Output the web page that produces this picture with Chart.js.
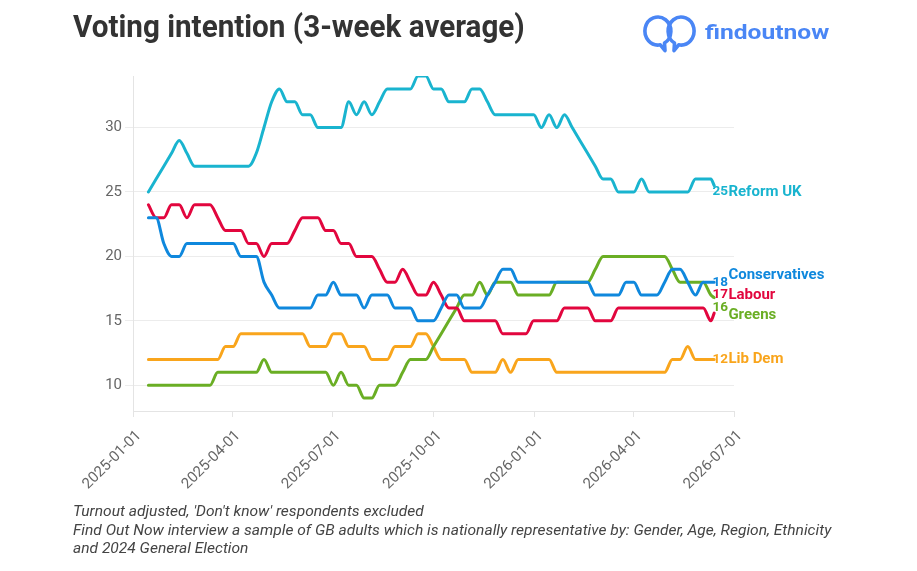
<!DOCTYPE html>
<html>
<head>
<meta charset="utf-8">
<script src="https://cdn.jsdelivr.net/npm/chart.js@4/dist/chart.umd.min.js"></script>
<style>
    html, body { margin: 0; padding: 0; background: #fff; }
    #wrap { position: relative; width: 917px; height: 571px; overflow: hidden; }
    #chart { position: absolute; left: 0; top: 0; }
    .fit { position: absolute; white-space: nowrap; transform-origin: left top; }
    #title { left: 73px; top: 11px; font: bold 31px/31px Roboto, sans-serif; color: #333; }
    #brand { left: 705px; top: 22px; font: bold 21px/21px Roboto, sans-serif; color: #4a86f5; }
    #logo { position: absolute; left: 640px; top: 13px; }
    .note { left: 73px; font: italic 14px/18.5px Roboto, sans-serif; color: #444; }
</style>
</head>
<body>
<div id="wrap">
    <canvas id="chart" width="917" height="571"></canvas>
    <div id="title" class="fit">Voting intention (3-week average)</div>
    <svg id="logo" width="60" height="42" viewBox="0 0 60 42">
        <g fill="none" stroke="#4a86f5" stroke-width="3.6" stroke-linecap="round" stroke-linejoin="round">
            <path d="M24.5 30.1 A13 14 0 1 0 20.3 31.8 L25 37.5 Z" />
            <path d="M34.5 30.1 A13 14 0 1 1 38.7 31.8 L34 37.5 Z" />
        </g>
    </svg>
    <div id="brand" class="fit">findoutnow</div>
    <div id="note1" class="fit note" style="top: 502px">Turnout adjusted, 'Don't know' respondents excluded</div>
    <div id="note2" class="fit note" style="top: 520.5px">Find Out Now interview a sample of GB adults which is nationally representative by: Gender, Age, Region, Ethnicity</div>
    <div id="note3" class="fit note" style="top: 539px">and 2024 General Election</div>
</div>
<script>
/*
|--------------------------------------------------------------------------
| Data
|--------------------------------------------------------------------------
*/

const partyNames = ["Reform UK", "Conservatives", "Labour", "Greens", "Lib Dem"];

const firstPoll = "2025-01-15";
const weeklyPolls = 74;
const lastPoll = "2026-06-13";

const reformUK = [
    25, 26, 27, 28, 29, 28, 27, 27, 27, 27,
    27, 27, 27, 27, 28, 30, 32, 33, 32, 32,
    31, 31, 30, 30, 30, 30, 32, 31, 32, 31,
    32, 33, 33, 33, 33, 34, 34, 33, 33, 32,
    32, 32, 33, 33, 32, 31, 31, 31, 31, 31,
    31, 30, 31, 30, 31, 30, 29, 28, 27, 26,
    26, 25, 25, 25, 26, 25, 25, 25, 25, 25,
    25, 26, 26, 26, 25.5,
];

const conservatives = [
    23, 23, 21, 20, 20, 21, 21, 21, 21, 21,
    21, 21, 20, 20, 20, 18, 17, 16, 16, 16,
    16, 16, 17, 17, 18, 17, 17, 17, 16, 17,
    17, 17, 16, 16, 16, 15, 15, 15, 16, 17,
    17, 16, 16, 16, 17, 18, 19, 19, 18, 18,
    18, 18, 18, 18, 18, 18, 18, 18, 17, 17,
    17, 17, 18, 18, 17, 17, 17, 18, 19, 19,
    18, 17, 18, 18, 18,
];

const labour = [
    24, 23, 23, 24, 24, 23, 24, 24, 24, 23,
    22, 22, 22, 21, 21, 20, 21, 21, 21, 22,
    23, 23, 23, 22, 22, 21, 21, 20, 20, 20,
    19, 18, 18, 19, 18, 17, 17, 18, 17, 16,
    16, 15, 15, 15, 15, 15, 14, 14, 14, 14,
    15, 15, 15, 15, 16, 16, 16, 16, 15, 15,
    15, 16, 16, 16, 16, 16, 16, 16, 16, 16,
    16, 16, 16, 15, 15.6,
];

const greens = [
    10, 10, 10, 10, 10, 10, 10, 10, 10, 11,
    11, 11, 11, 11, 11, 12, 11, 11, 11, 11,
    11, 11, 11, 11, 10, 11, 10, 10, 9, 9,
    10, 10, 10, 11, 12, 12, 12, 13, 14, 15,
    16, 17, 17, 18, 17, 18, 18, 18, 17, 17,
    17, 17, 17, 18, 18, 18, 18, 18, 19, 20,
    20, 20, 20, 20, 20, 20, 20, 20, 19, 18,
    18, 18, 18, 17, 16.8,
];

const libDem = [
    12, 12, 12, 12, 12, 12, 12, 12, 12, 12,
    13, 13, 14, 14, 14, 14, 14, 14, 14, 14,
    14, 13, 13, 13, 14, 14, 13, 13, 13, 12,
    12, 12, 13, 13, 13, 14, 14, 13, 12, 12,
    12, 12, 11, 11, 11, 11, 12, 11, 12, 12,
    12, 12, 12, 11, 11, 11, 11, 11, 11, 11,
    11, 11, 11, 11, 11, 11, 11, 11, 12, 12,
    13, 12, 12, 12, 12,
];

// numbers printed next to the line ends
const labelValues = [25, 18, 17, 16, 12];

const xTickLabels = [
    "2025-01-01", "2025-04-01", "2025-07-01", "2025-10-01",
    "2026-01-01", "2026-04-01", "2026-07-01",
];
const yTickLabels = [10, 15, 20, 25, 30];

/*
|--------------------------------------------------------------------------
| Helpers
|--------------------------------------------------------------------------
*/

const DAY = 864e5;
const pollDates = [];
for (let i = 0; i < weeklyPolls; i++) {
    pollDates.push(Date.parse(firstPoll) + i * 7 * DAY);
}
pollDates.push(Date.parse(lastPoll));

const COLORS = ["#19b4cf", "#0f88dd", "#e2063e", "#6aae24", "#f9a51c"];
const nameShift = [0, -7, 0, 7, 0];

const toPoints = (values) => values.map((v, i) => ({ x: pollDates[i], y: v }));

function fitWidth(id, width) {
    const el = document.getElementById(id);
    const s = width / el.scrollWidth;
    el.style.transform = `scaleX(${s})`;
    return s;
}

fitWidth("title", 452);
fitWidth("brand", 124);
const noteScale = fitWidth("note2", 758);
["note1", "note3"].forEach((id) => {
    document.getElementById(id).style.transform = `scaleX(${noteScale})`;
});

/*
|--------------------------------------------------------------------------
| End labels
|--------------------------------------------------------------------------
*/

const endLabels = {
    id: "endLabels",
    afterDatasetsDraw(chart) {
        const { ctx, scales } = chart;
        const x0 = scales.x.getPixelForValue(pollDates[weeklyPolls - 1]) + 1.5;

        chart.data.datasets.forEach((ds, i) => {
            const y = scales.y.getPixelForValue(labelValues[i]);
            const num = String(labelValues[i]);

            ctx.save();
            ctx.fillStyle = ds.borderColor;
            ctx.textAlign = "left";
            ctx.textBaseline = "middle";
            ctx.font = "bold 13.5px Roboto";
            ctx.fillText(num, x0, y);
            const w = ctx.measureText(num).width;
            ctx.font = "bold 15px Roboto";
            ctx.fillText(partyNames[i], x0 + w + 0.5, y + nameShift[i]);
            ctx.restore();
        });
    },
};

/*
|--------------------------------------------------------------------------
| Chart
|--------------------------------------------------------------------------
*/

const series = [reformUK, conservatives, labour, greens, libDem];

new Chart(document.getElementById("chart"), {
    type: "line",

    data: {
        datasets: series.map((values, i) => ({
            label: partyNames[i],
            data: toPoints(values),
            borderColor: COLORS[i],
            borderWidth: 3,
            pointRadius: 0,
            cubicInterpolationMode: "monotone",
            borderCapStyle: "round",
            borderJoinStyle: "round",
        })),
    },

    options: {
        responsive: false,
        animation: false,
        devicePixelRatio: 1,

        layout: {
            padding: { top: 76, right: 183, bottom: 0, left: 0 },
        },

        plugins: {
            legend: { display: false },
            tooltip: { enabled: false },
        },

        scales: {
            x: {
                type: "linear",
                min: Date.parse(xTickLabels[0]),
                max: Date.parse(xTickLabels[xTickLabels.length - 1]),
                afterBuildTicks: (scale) => {
                    scale.ticks = xTickLabels.map((l) => ({ value: Date.parse(l) }));
                },
                afterFit: (scale) => {
                    scale.height = 160;
                },
                ticks: {
                    autoSkip: false,
                    minRotation: 45,
                    maxRotation: 45,
                    padding: 10,
                    labelOffset: 6,
                    color: "#666",
                    font: { family: "Roboto", size: 15 },
                    callback: (v) => new Date(v).toISOString().slice(0, 10),
                },
                grid: {
                    drawOnChartArea: false,
                    tickLength: 6,
                    color: "#e4e4e4",
                },
                border: { color: "#e4e4e4" },
            },

            y: {
                min: 8,
                max: 34,
                afterBuildTicks: (scale) => {
                    scale.ticks = yTickLabels.map((v) => ({ value: v }));
                },
                afterFit: (scale) => {
                    scale.width = 133;
                },
                ticks: {
                    padding: 3,
                    color: "#666",
                    font: { family: "Roboto", size: 15 },
                },
                grid: {
                    color: "#ececec",
                    tickLength: 8,
                },
                border: { color: "#e4e4e4" },
            },
        },
    },

    plugins: [endLabels],
});
</script>
</body>
</html>
